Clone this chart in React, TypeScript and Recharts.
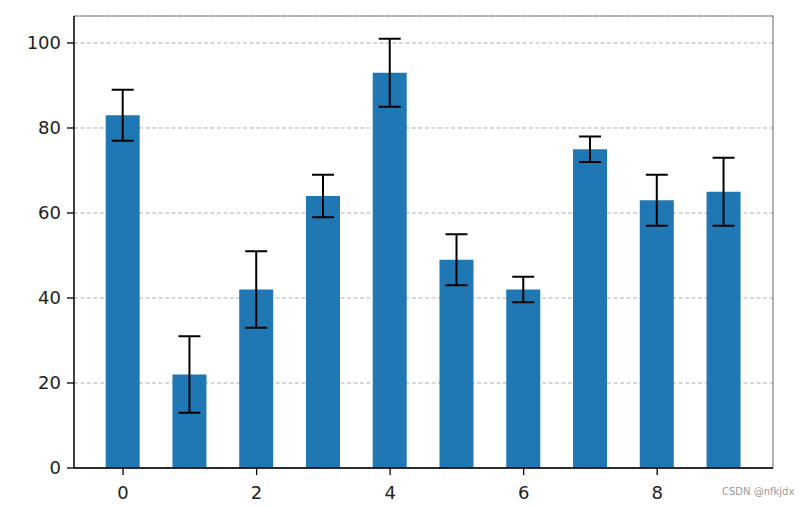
import React from 'react';
import { ComposedChart, Bar, ErrorBar, XAxis, YAxis, CartesianGrid, ReferenceArea } from 'recharts';

const positions = [0, 1, 2, 3, 4, 5, 6, 7, 8, 9];
const means = [83, 22, 42, 64, 93, 49, 42, 75, 63, 65];
const errors = [6, 9, 9, 5, 8, 6, 3, 3, 6, 8];
const xTicks = [0, 2, 4, 6, 8];
const yTicks = [0, 20, 40, 60, 80, 100];
const xDomain: [number, number] = [-0.735, 9.735];
const yDomain: [number, number] = [0, 106.35];

const data = positions.map((x, i) => ({ x, v: means[i], err: errors[i] }));

const font = 'DejaVu Sans, sans-serif';

export default function App() {
  return (
    <div style={{ position: 'absolute', left: 0, top: 0, width: 811, height: 508, background: '#fff' }}>
      <ComposedChart
        width={811}
        height={508}
        data={data}
        margin={{ top: 16, right: 38, left: 0, bottom: 0 }}
      >
        <CartesianGrid vertical={false} stroke="#b0b0b0" strokeDasharray="4 2.5" strokeWidth={1} />
        <ReferenceArea
          x1={xDomain[0]}
          x2={xDomain[1]}
          y1={yDomain[0]}
          y2={yDomain[1]}
          fill="none"
          stroke="#808080"
          strokeWidth={1.2}
          ifOverflow="extendDomain"
        />
        <XAxis
          type="number"
          dataKey="x"
          domain={xDomain}
          ticks={xTicks}
          allowDataOverflow
          axisLine={{ stroke: '#000', strokeWidth: 1.3 }}
          tickLine={{ stroke: '#000', strokeWidth: 1.3 }}
          tickSize={7}
          tickMargin={11}
          tick={{ fill: '#222', fontSize: 18, fontFamily: font }}
          height={40}
        />
        <YAxis
          type="number"
          domain={yDomain}
          ticks={yTicks}
          allowDataOverflow
          axisLine={{ stroke: '#000', strokeWidth: 1.3 }}
          tickLine={{ stroke: '#000', strokeWidth: 1.3 }}
          tickSize={7}
          tickMargin={6}
          tick={{ fill: '#222', fontSize: 18, fontFamily: font }}
          width={74}
        />
        <Bar dataKey="v" fill="#1f77b4" barSize={34} isAnimationActive={false}>
          <ErrorBar dataKey="err" direction="y" width={11} stroke="#000" strokeWidth={2} isAnimationActive={false} />
        </Bar>
      </ComposedChart>
      <div
        style={{
          position: 'absolute',
          left: 722,
          top: 486,
          fontFamily: font,
          fontSize: 10,
          color: '#999',
          whiteSpace: 'nowrap',
        }}
      >
        CSDN @nfkjdx
      </div>
    </div>
  );
}
